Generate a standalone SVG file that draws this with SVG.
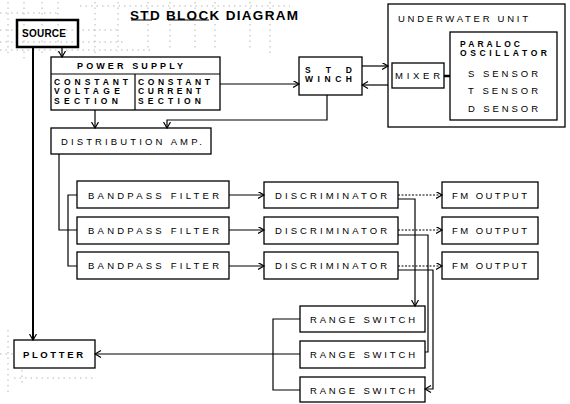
<svg xmlns="http://www.w3.org/2000/svg" width="570" height="404" viewBox="0 0 570 404">
<style>
.box{fill:none;stroke:#000;stroke-width:1.3}
.t{font-family:"Liberation Sans",Arial,sans-serif;font-size:9.5px;fill:#000}
.s{font-size:8.5px;font-weight:bold}
.b{font-weight:bold}
.c{fill:none;stroke:#000;stroke-width:1.2}
.d{stroke-dasharray:2 1.5}
.g{fill:none;stroke:#888;stroke-width:0.6;stroke-dasharray:1.5 4}
</style>
<defs>
<marker id="a" markerWidth="8" markerHeight="8" refX="6.5" refY="3.5" orient="auto" markerUnits="userSpaceOnUse"><path d="M0.5,0 L6.5,3.5 L0.5,7" fill="none" stroke="#000" stroke-width="1.2"/></marker>
</defs>
<rect width="570" height="404" fill="#fff"/>
<g id="scan-grid">
<path class="g" d="M8,2V55M24,2V60M42,2V55M58,2V55M95,2V55M118,2V52M148,2V50M170,2V50M195,2V50M215,2V50M250,2V50M270,2V55M80,6H290M0,13H60M0,30H120M0,42H125M0,50H150"/>
<path class="g" d="M0,354H14M8,330V395M22,370V385M14,378H95"/>
</g>
<g id="title">
<text class="t b" x="130" y="20" style="font-size:13.5px" textLength="168" lengthAdjust="spacing">STD BLOCK DIAGRAM</text>
<path d="M131,20H152M168,20H209" stroke="#000" stroke-width="1"/>
</g>
<g id="source">
<rect x="17" y="20" width="61" height="27" fill="none" stroke="#000" stroke-width="2.5"/>
<text class="t b" x="22" y="37" style="font-size:10px" textLength="44" lengthAdjust="spacing">SOURCE</text>
</g>
<g id="power-supply">
<rect class="box" x="51" y="57" width="169" height="53"/>
<path class="c" d="M51,74H220M135,74V110"/>
<text class="t" x="77" y="68.5" textLength="106" lengthAdjust="spacing" style="font-weight:bold;font-size:9px">POWER SUPPLY</text>
<text class="t s" x="54" y="85" textLength="74" lengthAdjust="spacing">CONSTANT</text>
<text class="t s" x="54" y="94" textLength="66" lengthAdjust="spacing">VOLTAGE</text>
<text class="t s" x="54" y="103.5" textLength="64" lengthAdjust="spacing">SECTION</text>
<text class="t s" x="138" y="85" textLength="72" lengthAdjust="spacing">CONSTANT</text>
<text class="t s" x="138" y="94" textLength="63" lengthAdjust="spacing">CURRENT</text>
<text class="t s" x="138" y="103.5" textLength="63" lengthAdjust="spacing">SECTION</text>
</g>
<g id="std-winch">
<rect class="box" x="299" y="57" width="63" height="38"/>
<text class="t s" x="305" y="73" textLength="47" lengthAdjust="spacing">S T D</text>
<text class="t s" x="305" y="82" textLength="47" lengthAdjust="spacing">WINCH</text>
</g>
<g id="underwater-unit">
<rect class="box" x="388" y="4" width="177" height="123"/>
<text class="t" x="398" y="21.5" textLength="130" lengthAdjust="spacing">UNDERWATER UNIT</text>
</g>
<g id="mixer">
<rect class="box" x="392" y="63" width="52" height="25"/>
<text class="t" x="395" y="79" textLength="45" lengthAdjust="spacing">MIXER</text>
</g>
<g id="oscillator">
<rect class="box" x="450" y="32" width="107" height="88"/>
<text class="t s" x="460" y="47" textLength="60" lengthAdjust="spacing">PARALOC</text>
<text class="t s" x="460" y="56" textLength="87" lengthAdjust="spacing">OSCILLATOR</text>
<text class="t" x="468" y="76.5" textLength="70" lengthAdjust="spacing">S SENSOR</text>
<text class="t" x="468" y="93.5" textLength="70" lengthAdjust="spacing">T SENSOR</text>
<text class="t" x="468" y="111.5" textLength="70" lengthAdjust="spacing">D SENSOR</text>
</g>
<g id="distribution-amp">
<rect class="box" x="51" y="128" width="160" height="26"/>
<text class="t" x="61" y="145" textLength="141" lengthAdjust="spacing">DISTRIBUTION AMP.</text>
</g>
<g id="bpf1"><rect class="box" x="77" y="181" width="152" height="27"/><text class="t" x="88" y="198.5" textLength="131" lengthAdjust="spacing">BANDPASS FILTER</text></g>
<g id="bpf2"><rect class="box" x="77" y="217" width="152" height="27"/><text class="t" x="88" y="234" textLength="131" lengthAdjust="spacing">BANDPASS FILTER</text></g>
<g id="bpf3"><rect class="box" x="77" y="252" width="152" height="27"/><text class="t" x="88" y="269" textLength="131" lengthAdjust="spacing">BANDPASS FILTER</text></g>
<g id="disc1"><rect class="box" x="264" y="182" width="134" height="26"/><text class="t" x="275" y="198.5" textLength="112" lengthAdjust="spacing">DISCRIMINATOR</text></g>
<g id="disc2"><rect class="box" x="264" y="217" width="134" height="27"/><text class="t" x="275" y="234" textLength="112" lengthAdjust="spacing">DISCRIMINATOR</text></g>
<g id="disc3"><rect class="box" x="264" y="252" width="134" height="27"/><text class="t" x="275" y="269" textLength="112" lengthAdjust="spacing">DISCRIMINATOR</text></g>
<g id="fm1"><rect class="box" x="442" y="182" width="96" height="26"/><text class="t" x="452" y="198.5" textLength="75" lengthAdjust="spacing">FM OUTPUT</text></g>
<g id="fm2"><rect class="box" x="442" y="217" width="96" height="27"/><text class="t" x="452" y="234" textLength="75" lengthAdjust="spacing">FM OUTPUT</text></g>
<g id="fm3"><rect class="box" x="442" y="252" width="96" height="27"/><text class="t" x="452" y="269" textLength="75" lengthAdjust="spacing">FM OUTPUT</text></g>
<g id="rs1"><rect class="box" x="300" y="306" width="125" height="26"/><text class="t" x="310" y="322.5" textLength="105" lengthAdjust="spacing">RANGE SWITCH</text></g>
<g id="rs2"><rect class="box" x="300" y="341" width="125" height="27"/><text class="t" x="310" y="358" textLength="105" lengthAdjust="spacing">RANGE SWITCH</text></g>
<g id="rs3"><rect class="box" x="300" y="377" width="125" height="25"/><text class="t" x="310" y="393.5" textLength="105" lengthAdjust="spacing">RANGE SWITCH</text></g>
<g id="plotter">
<rect class="box" x="14" y="340" width="81" height="28"/>
<text class="t b" x="23" y="358" textLength="60" lengthAdjust="spacing">PLOTTER</text>
</g>
<g id="connectors">
<path class="c" d="M62,47V57" marker-end="url(#a)"/>
<path d="M33,47V340" fill="none" stroke="#000" stroke-width="2" marker-end="url(#a)"/>
<path class="c" d="M95,110V128" marker-end="url(#a)"/>
<path class="c" d="M220,84H299" marker-end="url(#a)"/>
<path class="c" d="M327,95V120H167V128" marker-end="url(#a)"/>
<path class="c" d="M362,66H388" marker-end="url(#a)"/>
<path class="c" d="M388,85H362" marker-end="url(#a)"/>
<path d="M444,76H450" stroke="#000" stroke-width="2.5"/>
<path class="c" d="M59,154V230H77M77,195H68V266H77"/>
<path class="c" d="M229,195H264" marker-end="url(#a)"/>
<path class="c" d="M229,230H264" marker-end="url(#a)"/>
<path class="c" d="M229,266H264" marker-end="url(#a)"/>
<path class="c d" d="M398,195H442" marker-end="url(#a)"/>
<path class="c d" d="M398,230H442" marker-end="url(#a)"/>
<path class="c d" d="M398,266H442" marker-end="url(#a)"/>
<path class="c" d="M398,199H415V306" marker-end="url(#a)"/>
<path class="c" d="M398,235H428V352H425"/>
<path class="c" d="M398,270H433V389H425" marker-end="url(#a)"/>
<path class="c" d="M300,319H273V390H300"/>
<path class="c" d="M300,354H95" marker-end="url(#a)"/>
</g>
</svg>
